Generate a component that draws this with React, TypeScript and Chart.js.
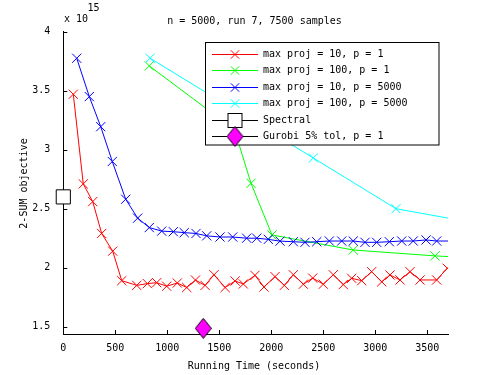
import React, { useEffect, useRef } from "react";
import { Chart, registerables } from "chart.js";

Chart.register(...registerables);

const FONT = "'DejaVu Sans Mono', monospace";

const xTicks = [0, 500, 1000, 1500, 2000, 2500, 3000, 3500];
const yTicks = [1.5, 2, 2.5, 3, 3.5, 4];

const titleText = "n = 5000, run 7, 7500 samples";
const xTitle = "Running Time (seconds)";
const yTitle = "2-SUM objective";

const seriesLabels = [
  "max proj = 10, p = 1",
  "max proj = 100, p = 1",
  "max proj = 10, p = 5000",
  "max proj = 100, p = 5000",
  "Spectral",
  "Gurobi 5% tol, p = 1",
];

// max proj = 10, p = 1
const redX = [96, 192, 283, 369, 475, 562, 706, 808, 898, 994, 1096, 1187, 1271, 1363, 1449, 1556, 1652, 1731, 1843, 1930, 2036, 2125, 2212, 2308, 2398, 2500, 2596, 2692, 2773, 2869, 2965, 3062, 3141, 3238, 3334, 3430, 3590, 3692];
const redY = [3.47, 2.71, 2.56, 2.29, 2.14, 1.89, 1.85, 1.865, 1.873, 1.843, 1.87, 1.832, 1.895, 1.85, 1.94, 1.832, 1.887, 1.862, 1.935, 1.836, 1.924, 1.85, 1.94, 1.86, 1.912, 1.86, 1.94, 1.857, 1.91, 1.89, 1.966, 1.88, 1.938, 1.896, 1.966, 1.896, 1.896, 1.995];

// max proj = 100, p = 1
const greenX = [827, 1646, 1805, 2007, 2788, 3574, 3700];
const greenY = [3.71, 3.17, 2.715, 2.277, 2.15, 2.1, 2.094];

// max proj = 10, p = 5000
const blueX = [129, 250, 360, 471, 600, 715, 827, 946, 1058, 1163, 1276, 1379, 1507, 1629, 1763, 1860, 1971, 2084, 2212, 2324, 2437, 2558, 2677, 2788, 2901, 3013, 3135, 3254, 3365, 3488, 3590, 3700];
const blueY = [3.775, 3.45, 3.195, 2.9, 2.58, 2.42, 2.34, 2.31, 2.305, 2.297, 2.29, 2.27, 2.26, 2.26, 2.25, 2.25, 2.24, 2.225, 2.22, 2.215, 2.22, 2.226, 2.226, 2.226, 2.215, 2.215, 2.22, 2.226, 2.226, 2.235, 2.226, 2.226];

// max proj = 100, p = 5000
const cyanX = [834, 2404, 3199, 3700];
const cyanY = [3.775, 2.93, 2.5, 2.42];

// Spectral
const spectralX = [0];
const spectralY = [2.6];

// Gurobi 5% tol, p = 1
const gurobiX = [1346];
const gurobiY = [1.486];

const seriesColors = ["#ff0000", "#00ff00", "#0000ff", "#00ffff", "#000000", "#000000"];

function pts(xs: number[], ys: number[]) {
  return xs.map((x, i) => ({ x, y: ys[i] }));
}

function makeDiamond(): HTMLCanvasElement {
  const c = document.createElement("canvas");
  c.width = 17;
  c.height = 21;
  const g = c.getContext("2d")!;
  g.beginPath();
  g.moveTo(8.5, 0.5);
  g.lineTo(16.5, 10.5);
  g.lineTo(8.5, 20.5);
  g.lineTo(0.5, 10.5);
  g.closePath();
  g.fillStyle = "#ff00ff";
  g.fill();
  g.strokeStyle = "#000";
  g.lineWidth = 1;
  g.stroke();
  return c;
}

export default function App() {
  const ref = useRef<HTMLCanvasElement | null>(null);

  useEffect(() => {
    if (!ref.current) return;
    const diamond = makeDiamond();
    const xr = 6.5;

    const radii = (xs: number[], hideLast: boolean) =>
      xs.map((_, i) => (hideLast && i === xs.length - 1 ? 0 : xr));

    const decor = {
      id: "decor",
      afterDraw(chart: any) {
        const ctx = chart.ctx as CanvasRenderingContext2D;
        const xs = chart.scales.x;
        const ys = chart.scales.y;
        const area = chart.chartArea;
        ctx.save();
        ctx.strokeStyle = "#000";
        ctx.lineWidth = 1;
        // inward ticks
        ctx.beginPath();
        for (const v of xTicks) {
          const p = Math.round(xs.getPixelForValue(v)) + 0.5;
          ctx.moveTo(p, area.bottom);
          ctx.lineTo(p, area.bottom - 4);
        }
        for (const v of yTicks) {
          const p = Math.round(ys.getPixelForValue(v)) + 0.5;
          ctx.moveTo(area.left, p);
          ctx.lineTo(area.left + 4, p);
        }
        ctx.stroke();

        // texts
        ctx.fillStyle = "#000";
        ctx.font = `10px ${FONT}`;
        ctx.textBaseline = "middle";
        ctx.textAlign = "center";
        ctx.fillText(titleText, 254.5, 21);
        ctx.fillText(xTitle, 254, 366);
        ctx.textAlign = "left";
        ctx.fillText("x 10", 64, 19);
        ctx.fillText("15", 87.5, 8);
        ctx.save();
        ctx.translate(24, 183.5);
        ctx.rotate(-Math.PI / 2);
        ctx.textAlign = "center";
        ctx.fillText(yTitle, 0, 0);
        ctx.restore();

        // legend
        const L = { x: 205.5, y: 42.5, w: 233.5, h: 102.5 };
        ctx.fillStyle = "#fff";
        ctx.fillRect(L.x, L.y, L.w, L.h);
        ctx.strokeStyle = "#000";
        ctx.strokeRect(L.x, L.y, L.w, L.h);
        for (let i = 0; i < seriesLabels.length; i++) {
          const ry = Math.round(53.5 + i * 16.5) + 0.5;
          const col = seriesColors[i];
          ctx.strokeStyle = col;
          ctx.beginPath();
          ctx.moveTo(212, ry);
          ctx.lineTo(258, ry);
          ctx.stroke();
          const mx = 235;
          if (i < 4) {
            const a = 4.2;
            ctx.beginPath();
            ctx.moveTo(mx - a, ry - a);
            ctx.lineTo(mx + a, ry + a);
            ctx.moveTo(mx + a, ry - a);
            ctx.lineTo(mx - a, ry + a);
            ctx.stroke();
          } else if (i === 4) {
            ctx.fillStyle = "#fff";
            ctx.fillRect(mx - 7, ry - 7, 14, 14);
            ctx.strokeStyle = "#000";
            ctx.strokeRect(mx - 7, ry - 7, 14, 14);
          } else {
            ctx.drawImage(diamond, mx - 8.5, ry - 10.5);
          }
          ctx.fillStyle = "#000";
          ctx.textAlign = "left";
          ctx.textBaseline = "middle";
          ctx.fillText(seriesLabels[i], 263, ry);
        }
        ctx.restore();
      },
    };

    const lineDs = (i: number, xs: number[], ys: number[], hideLast: boolean, order: number) => ({
      label: seriesLabels[i],
      data: pts(xs, ys),
      showLine: true,
      borderColor: seriesColors[i],
      backgroundColor: seriesColors[i],
      borderWidth: 1,
      pointStyle: "crossRot",
      pointRadius: radii(xs, hideLast),
      pointBorderColor: seriesColors[i],
      pointBorderWidth: 1,
      order,
    });

    const chart = new Chart(ref.current, {
      type: "scatter",
      data: {
        datasets: [
          lineDs(0, redX, redY, false, 6),
          lineDs(1, greenX, greenY, true, 5),
          lineDs(2, blueX, blueY, true, 4),
          lineDs(3, cyanX, cyanY, true, 3),
          {
            label: seriesLabels[4],
            data: pts(spectralX, spectralY),
            showLine: false,
            pointStyle: "rect",
            pointRadius: 10,
            backgroundColor: "#ffffff",
            borderColor: "#000000",
            pointBorderWidth: 1,
            clip: false,
            order: 2,
          } as any,
          {
            label: seriesLabels[5],
            data: pts(gurobiX, gurobiY),
            showLine: false,
            pointStyle: diamond,
            pointRadius: 10,
            clip: false,
            order: 1,
          } as any,
        ],
      },
      options: {
        animation: false,
        responsive: false,
        events: [],
        layout: { padding: { left: 0, top: 31.7, right: 46.9, bottom: 0 } },
        plugins: {
          legend: { display: false },
          tooltip: { enabled: false },
          title: { display: false },
        },
        scales: {
          x: {
            type: "linear",
            min: 0,
            max: 3700,
            afterBuildTicks: (s: any) => {
              s.ticks = xTicks.map((v) => ({ value: v }));
            },
            afterFit: (s: any) => {
              s.height = 41;
            },
            grid: { display: false },
            border: { display: true, color: "#000", width: 1 },
            ticks: {
              color: "#000",
              padding: 0,
              autoSkip: false,
              maxRotation: 0,
              font: { family: FONT, size: 10 },
              callback: (v: any) => String(v),
            },
          },
          y: {
            type: "linear",
            min: 1.438,
            max: 4,
            afterBuildTicks: (s: any) => {
              s.ticks = yTicks.map((v) => ({ value: v }));
            },
            afterFit: (s: any) => {
              s.width = 63.3;
            },
            grid: { display: false },
            border: { display: true, color: "#000", width: 1 },
            ticks: {
              color: "#000",
              padding: 5,
              autoSkip: false,
              font: { family: FONT, size: 10 },
              callback: (v: any) => String(v),
            },
          },
        },
      } as any,
      plugins: [decor],
    });

    return () => chart.destroy();
  }, []);

  return (
    <div style={{ position: "absolute", left: 0, top: 0, width: 495, height: 375, background: "#fff" }}>
      <canvas ref={ref} width={495} height={375} style={{ display: "block", width: 495, height: 375 }} />
    </div>
  );
}
